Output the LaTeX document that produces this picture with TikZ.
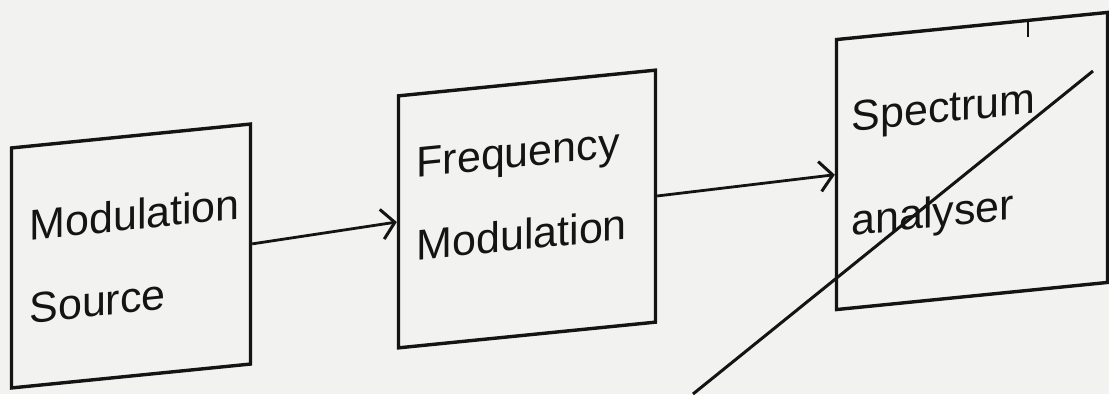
\documentclass[tikz,border=0pt]{standalone}
\usepackage{fontspec}
\setmainfont{Liberation Sans}
\usetikzlibrary{arrows.meta}
\definecolor{paper}{RGB}{242,242,240}
\definecolor{ink}{RGB}{20,20,20}
\tikzset{
  blockbox/.style={draw=ink, line width=3.4pt, rectangle, yslant=0.1,
    inner xsep=18pt, align=left, text=ink,
    font=\fontsize{43}{83}\selectfont},
  flow/.style={draw=ink, line width=2.8pt,
    -{Straight Barb[length=13pt,width=30pt,line width=3pt]}},
  stroke/.style={draw=ink, line width=3pt}
}
\begin{document}
\begin{tikzpicture}[x=1pt,y=-1pt]
\fill[paper] (0,0) rectangle (1109,394);
\useasboundingbox (0,0) rectangle (1109,394);
\node[blockbox, minimum width=239pt, minimum height=240pt, text width=203pt] (b1) at (131,256) {Modulation\\Source};
\node[blockbox, minimum width=257pt, minimum height=252pt, text width=221pt, text depth=115pt] (b2) at (527,209) {Frequency\\Modulation};
\node[blockbox, minimum width=271pt, minimum height=270pt, text width=241pt, inner xsep=15pt,
      font=\fontsize{43}{104}\selectfont] (b3) at (972,161) {Spectrum\\analyser};
\draw[flow] (b1.east) -- (b2.west);
\draw[flow] (b2.east) -- (b3.west);
\coordinate (s1) at (693,394);
\coordinate (s2) at (1093,71);
\draw[stroke] (s1) -- (s2);
\coordinate (t1) at (1028,20);
\coordinate (t2) at (1028,37);
\draw[stroke, line width=2.4pt] (t1) -- (t2);
\end{tikzpicture}
\end{document}
